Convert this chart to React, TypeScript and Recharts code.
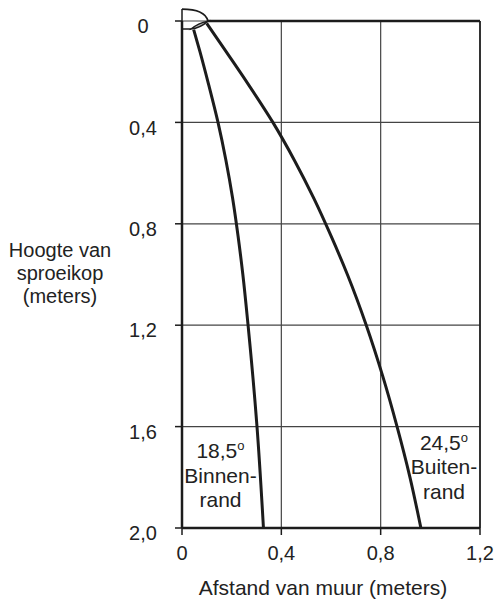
import { ComposedChart, Line, Scatter, XAxis, YAxis, CartesianGrid, ReferenceLine } from 'recharts';

// inner edge of the spray (18,5 degrees): afstand (x) vs hoogte (y)
const binnenrand = [
  { x: 0.047, y: 0.034 },
  { x: 0.072, y: 0.12 },
  { x: 0.107, y: 0.25 },
  { x: 0.145, y: 0.4 },
  { x: 0.177, y: 0.55 },
  { x: 0.204, y: 0.7 },
  { x: 0.226, y: 0.85 },
  { x: 0.245, y: 1.0 },
  { x: 0.266, y: 1.2 },
  { x: 0.302, y: 1.6 },
  { x: 0.328, y: 2.0 },
];

// outer edge of the spray (24,5 degrees)
const buitenrand = [
  { x: 0.0995, y: 0.009 },
  { x: 0.177, y: 0.12 },
  { x: 0.267, y: 0.25 },
  { x: 0.366, y: 0.4 },
  { x: 0.453, y: 0.55 },
  { x: 0.531, y: 0.7 },
  { x: 0.601, y: 0.85 },
  { x: 0.666, y: 1.0 },
  { x: 0.742, y: 1.2 },
  { x: 0.808, y: 1.4 },
  { x: 0.866, y: 1.6 },
  { x: 0.918, y: 1.8 },
  { x: 0.962, y: 2.0 },
];

const sproeikop = [{ x: 0, y: 0.032 }];

const annotations = [
  { x: 0.155, y: 1.724, angle: '18,5', lines: ['Binnen-', 'rand'] },
  { x: 1.055, y: 1.692, angle: '24,5', lines: ['Buiten-', 'rand'] },
];

const xTicks = [0, 0.4, 0.8, 1.2];
const yTicks = [0, 0.4, 0.8, 1.2, 1.6, 2.0];

const FONT = '"Liberation Sans", Arial, sans-serif';
const INK = '#1c1c1c';

const fmt = (v: number) => (v === 0 ? '0' : v.toFixed(1).replace('.', ','));

const HeadShape = (props: any) => {
  const { cx, cy } = props;
  return (
    <g transform={`translate(${cx},${cy})`} fill="none" stroke={INK} strokeWidth={1.5}>
      <path d="M0,-20 L0,0 L9,0" />
      <path d="M0,-20 C14,-20 24,-16 26,-8" strokeWidth={1.8} />
      <path d="M9,0 Q18,-1 26,-8 Q16,-6 9,0 Z" fill="#bbb" />
    </g>
  );
};

const AnnotationShape = (props: any) => {
  const { cx, cy, payload } = props;
  return (
    <g fontFamily={FONT} fontSize={21} fill="#222">
      <text x={cx} y={cy} textAnchor="middle">
        {payload.angle}
        <tspan fontSize={13} dy={-8}>o</tspan>
      </text>
      {payload.lines.map((l: string, i: number) => (
        <text key={i} x={cx} y={cy + 24.5 * (i + 1)} textAnchor="middle">
          {l}
        </text>
      ))}
    </g>
  );
};

const YTick = (props: any) => {
  const { x, y, payload } = props;
  return (
    <text x={x} y={y + 5} dy="0.355em" textAnchor="middle" fontFamily={FONT} fontSize={20} fill="#222">
      {fmt(payload.value)}
    </text>
  );
};

export default function App() {
  return (
    <div style={{ position: 'absolute', left: 0, top: 0, background: '#fff' }}>
      <ComposedChart
        layout="vertical"
        width={495}
        height={602}
        margin={{ top: 21, right: 15, bottom: 0, left: 0 }}
      >
        <CartesianGrid stroke="#444" strokeWidth={1.2} />
        <XAxis
          type="number"
          dataKey="x"
          domain={[0, 1.2]}
          ticks={xTicks}
          height={74}
          tickFormatter={fmt}
          axisLine={{ stroke: INK, strokeWidth: 2.5 }}
          tickLine={{ stroke: INK, strokeWidth: 1.5 }}
          tickSize={7}
          tickMargin={11}
          tick={{ fontFamily: FONT, fontSize: 20, fill: '#222' }}
        />
        <YAxis
          type="number"
          dataKey="y"
          domain={[0, 2]}
          ticks={yTicks}
          width={182}
          axisLine={{ stroke: INK, strokeWidth: 2.5 }}
          tickLine={{ stroke: INK, strokeWidth: 1.5 }}
          tickSize={7}
          tickMargin={32}
          tick={<YTick />}
        />
        <ReferenceLine
          segment={[
            { x: 0.1, y: 0 },
            { x: 1.2, y: 0 },
          ]}
          stroke={INK}
          strokeWidth={2.5}
        />
        <ReferenceLine x={1.2} stroke={INK} strokeWidth={1.6} />
        <Line
          data={binnenrand}
          dataKey="x"
          type="monotone"
          stroke={INK}
          strokeWidth={3}
          dot={false}
          activeDot={false}
          isAnimationActive={false}
        />
        <Line
          data={buitenrand}
          dataKey="x"
          type="monotone"
          stroke={INK}
          strokeWidth={3}
          dot={false}
          activeDot={false}
          isAnimationActive={false}
        />
        <Scatter data={sproeikop} shape={HeadShape} isAnimationActive={false} />
        <Scatter data={annotations} shape={AnnotationShape} isAnimationActive={false} />
        <g fontFamily={FONT} fill="#222">
          <text x={60} y={257} textAnchor="middle" fontSize={20}>Hoogte van</text>
          <text x={60} y={280} textAnchor="middle" fontSize={20}>sproeikop</text>
          <text x={60} y={303} textAnchor="middle" fontSize={20}>(meters)</text>
          <text x={323} y={595} textAnchor="middle" fontSize={21}>Afstand van muur (meters)</text>
        </g>
      </ComposedChart>
    </div>
  );
}
